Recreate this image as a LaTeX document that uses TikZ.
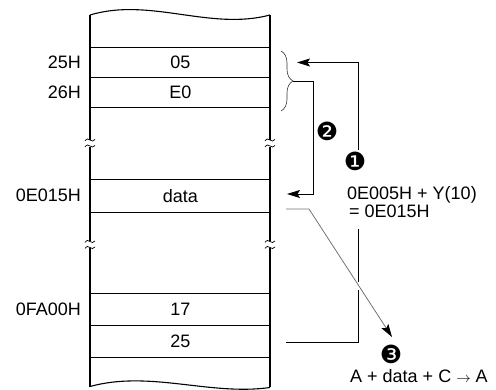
\documentclass[tikz,border=0pt]{standalone}
\usepackage{fontspec}
\setmainfont{Liberation Sans}
\newfontfamily\dejavu{DejaVu Sans}
\usetikzlibrary{arrows.meta,decorations.pathreplacing}
\begin{document}
\begin{tikzpicture}[x=1pt,y=-1pt,
  font=\fontsize{18}{21}\selectfont,
  cell/.style={draw, line width=0.8pt, minimum width=180pt, inner sep=0pt, anchor=north west},
  addr/.style={anchor=east, inner sep=0pt},
  wall/.style={line width=2.4pt},
  wave/.style={line width=1.1pt},
  tilde/.style={line width=0.7pt},
  conn/.style={line width=0.9pt},
  greyconn/.style={line width=0.8pt, draw=black!55},
  tipstyle/.style={-{Stealth[length=13pt,width=8pt,inset=2.5pt,fill=black,color=black]}},
  num/.style={font=\dejavu\fontsize{25}{25}\selectfont, inner sep=0pt},
  txt/.style={anchor=base west, inner sep=0pt},
]
\useasboundingbox (0,0) rectangle (496,390);

% cells
\node[cell, minimum height=30pt] (c05) at (90,47.3) {05};
\node[cell, minimum height=30pt] (cE0) at (90,77.3) {E0};
\node[cell, minimum height=33pt] (cdata) at (90,179.3) {data};
\node[cell, minimum height=32pt] (c17) at (90,293.3) {17};
\node[cell, minimum height=32pt] (c25) at (90,325.3) {25};

% addresses
\node[addr] (a25) at (81,62.3) {25H};
\node[addr] (a26) at (81,92.3) {26H};
\node[addr] (aE015) at (81,195.8) {0E015H};
\node[addr] (aFA00) at (81,309.3) {0FA00H};

% walls with breaks
\foreach \xx in {90,270}{
  \draw[wall] (\xx,15) -- (\xx,140);
  \draw[wall] (\xx,147) -- (\xx,241.5);
  \draw[wall] (\xx,248) -- (\xx,387);
  \draw[tilde] (\xx-5,141) sin (\xx-2.5,139) cos (\xx,140) sin (\xx+2.5,141) cos (\xx+5,139.5);
  \draw[tilde] (\xx-5,147) sin (\xx-2.5,145) cos (\xx,146) sin (\xx+2.5,147) cos (\xx+5,145.5);
  \draw[tilde] (\xx-5,242.5) sin (\xx-2.5,240.5) cos (\xx,241.5) sin (\xx+2.5,242.5) cos (\xx+5,241);
  \draw[tilde] (\xx-5,248.5) sin (\xx-2.5,246.5) cos (\xx,247.5) sin (\xx+2.5,248.5) cos (\xx+5,247);
}
% waves
\draw[wave] (90,15) .. controls (150,-3) and (210,31) .. (270,15);
\draw[wave] (90,386.5) .. controls (150,370) and (210,396) .. (270,387.5);

% brace
\draw[decorate, decoration={brace, amplitude=12pt}, line width=0.6pt, draw=black!80] (281,51) -- (281,111);
\coordinate (brtip) at (293,81);

% arrow 2
\coordinate (a2turn) at (313,81);
\coordinate (a2end) at (287,194);
\draw[conn, tipstyle] (brtip) -- (a2turn) |- (a2end);
\node[num] (n2) at (327,131) {❷};

% arrow 1
\coordinate (a1start) at (286,342);
\coordinate (a1corner) at (358,342);
\coordinate (a1gapA) at (358,290);
\coordinate (a1gapB) at (358,282);
\coordinate (a1textlow) at (358,229);
\coordinate (a1texthigh) at (358,150);
\coordinate (a1top) at (358,62.5);
\coordinate (a1end) at (297,62.5);
\draw[conn] (a1start) -- (a1corner) -- (a1gapA);
\draw[conn] (a1gapB) -- (a1textlow);
\draw[conn, tipstyle] (a1texthigh) -- (a1top) -- (a1end);
\node[num] (n1) at (355,161) {❶};
\node[txt] (t1a) at (347,199.5) {0E005H + Y(10)};
\node[txt] (t1b) at (349,217.5) {= 0E015H};

% arrow 3
\coordinate (a3start) at (286,209);
\coordinate (a3bend) at (309,209);
\coordinate (a3end) at (392,337);
\draw[greyconn, tipstyle] (a3start) -- (a3bend) -- (a3end);
\node[num] (n3) at (391,354.5) {❸};
\node[txt] (t3) at (350,383) {A + data + C {\fontsize{14}{14}\selectfont$\rightarrow$} A};
\end{tikzpicture}
\end{document}
